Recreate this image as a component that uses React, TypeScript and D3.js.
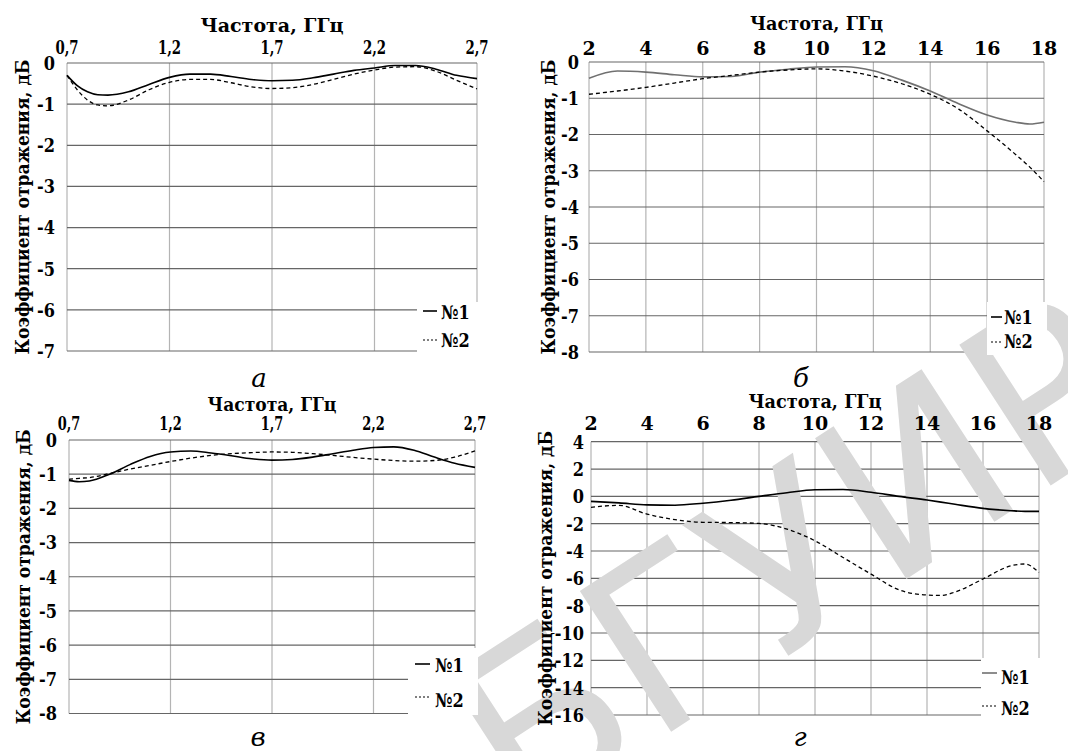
import React from "react";
import * as d3 from "d3";

// ---------- DATA ----------
const xTicksLow = [0.7, 1.2, 1.7, 2.2, 2.7];
const xTicksHigh = [2, 4, 6, 8, 10, 12, 14, 16, 18];
const yTicksA = [0, -1, -2, -3, -4, -5, -6, -7];
const yTicksB = [0, -1, -2, -3, -4, -5, -6, -7, -8];
const yTicksV = [0, -1, -2, -3, -4, -5, -6, -7, -8];
const yTicksG = [4, 2, 0, -2, -4, -6, -8, -10, -12, -14, -16];

// panel а
const freqA = [0.7, 0.75, 0.8, 0.85, 0.9, 1.0, 1.1, 1.2, 1.3, 1.4, 1.5, 1.6, 1.7, 1.8, 1.9, 2.0, 2.1, 2.2, 2.3, 2.4, 2.5, 2.6, 2.7];
const a1 = [-0.3, -0.55, -0.7, -0.77, -0.78, -0.7, -0.52, -0.35, -0.27, -0.27, -0.33, -0.4, -0.43, -0.42, -0.36, -0.27, -0.18, -0.12, -0.06, -0.06, -0.15, -0.3, -0.38];
const a2 = [-0.3, -0.65, -0.9, -1.02, -1.04, -0.9, -0.65, -0.47, -0.4, -0.4, -0.48, -0.58, -0.62, -0.6, -0.52, -0.4, -0.27, -0.17, -0.1, -0.09, -0.2, -0.42, -0.63];

// panel б
const freqB = [2, 3, 4, 5, 6, 7, 8, 9, 10, 11, 12, 13, 14, 15, 16, 17, 17.5, 18];
const b1 = [-0.45, -0.25, -0.28, -0.35, -0.41, -0.4, -0.28, -0.2, -0.14, -0.13, -0.24, -0.5, -0.8, -1.15, -1.46, -1.66, -1.71, -1.66];
const b2 = [-0.89, -0.8, -0.7, -0.58, -0.46, -0.37, -0.28, -0.22, -0.19, -0.25, -0.39, -0.6, -0.89, -1.3, -1.9, -2.55, -2.9, -3.3];

// panel в
const freqV = [0.7, 0.75, 0.8, 0.9, 1.0, 1.1, 1.2, 1.3, 1.4, 1.5, 1.6, 1.7, 1.8, 1.9, 2.0, 2.1, 2.2, 2.3, 2.4, 2.5, 2.6, 2.7];
const v1 = [-1.18, -1.22, -1.2, -1.0, -0.72, -0.48, -0.35, -0.32, -0.38, -0.46, -0.55, -0.59, -0.57, -0.5, -0.4, -0.3, -0.22, -0.2, -0.3, -0.5, -0.68, -0.8];
const v2 = [-1.15, -1.12, -1.1, -0.98, -0.85, -0.74, -0.63, -0.53, -0.45, -0.4, -0.37, -0.35, -0.36, -0.4, -0.45, -0.51, -0.56, -0.6, -0.62, -0.6, -0.5, -0.32];

// panel г
const freqG = [2, 3, 4, 5, 6, 7, 8, 9, 10, 11, 12, 13, 14, 14.5, 15, 16, 17, 17.5, 18];
const g1 = [-0.37, -0.48, -0.62, -0.65, -0.5, -0.28, 0, 0.27, 0.48, 0.5, 0.3, 0.0, -0.27, -0.42, -0.58, -0.88, -1.05, -1.1, -1.1];
const g2 = [-0.8, -0.66, -1.3, -1.7, -1.9, -1.92, -1.98, -2.4, -3.25, -4.47, -5.69, -6.84, -7.22, -7.25, -7.0, -6.05, -5.08, -4.95, -5.57];

const legendLabels = ["№1", "№2"];
const xTitle = "Частота, ГГц";
const yTitle = "Коэффициент отражения, дБ";
const captions = ["а", "б", "в", "г"];
const watermark = "БГУИР";

// ---------- RENDER ----------
const SERIF = '"DejaVu Serif", serif';

function T(props: {
  x: number; y: number; size: number; sx?: number; anchor?: string; italic?: boolean; bold?: boolean;
  dy?: string; rotate?: number; children: React.ReactNode;
}) {
  const { x, y, size, sx = 1, anchor = "start", italic = false, bold = true, dy, rotate = 0 } = props;
  return (
    <text
      transform={`translate(${x},${y}) rotate(${rotate}) scale(${sx},1)`}
      textAnchor={anchor}
      dy={dy}
      style={{ fontFamily: SERIF, fontSize: size, fontWeight: bold ? "bold" : "normal", fontStyle: italic ? "italic" : "normal" }}
    >
      {props.children}
    </text>
  );
}

type PanelProps = {
  x0: number; x1: number; yT: number; yB: number;
  xDomain: [number, number]; yDomain: [number, number];
  xTicks: number[]; yTicks: number[];
  freq: number[]; s1: number[]; s2: number[];
  s1Color: string; legend1Color: string;
  titleY: number; titleSx: number; tickY: number; tickSize: number; tickSx: number;
  yLabelX: number; yTickX: number;
  legend: { x: number; y: number; w: number; h: number; lx0: number; lx1: number; tx: number; ty1: number; ty2: number; ly1: number; ly2: number };
  caption: string; capX: number; capY: number;
  fmt: (v: number) => string;
};

function Grid(p: PanelProps) {
  const xs = d3.scaleLinear().domain(p.xDomain).range([p.x0, p.x1]);
  const ys = d3.scaleLinear().domain(p.yDomain).range([p.yB, p.yT]);
  return (
    <g>
      {p.xTicks.map((t) => (
        <line key={"vx" + t} x1={xs(t)} x2={xs(t)} y1={p.yT} y2={p.yB} stroke="#b4b4b4" strokeWidth={1.2} />
      ))}
      {p.yTicks.map((t) => (
        <line key={"hy" + t} x1={p.x0} x2={p.x1} y1={ys(t)} y2={ys(t)} stroke="#666" strokeWidth={1.2} />
      ))}
    </g>
  );
}

function Panel(p: PanelProps) {
  const xs = d3.scaleLinear().domain(p.xDomain).range([p.x0, p.x1]);
  const ys = d3.scaleLinear().domain(p.yDomain).range([p.yB, p.yT]);
  const line = d3
    .line<number>()
    .x((_, i) => xs(p.freq[i]))
    .y((d) => ys(d))
    .curve(d3.curveMonotoneX);
  const L = p.legend;
  const midX = (p.x0 + p.x1) / 2;
  const midY = (p.yT + p.yB) / 2;
  return (
    <g>
      <path d={line(p.s1) || ""} fill="none" stroke={p.s1Color} strokeWidth={1.6} />
      <path d={line(p.s2) || ""} fill="none" stroke="#000" strokeWidth={1.3} strokeDasharray="4,3" />
      <rect x={L.x} y={L.y} width={L.w} height={L.h} fill="#fff" />
      <line x1={L.lx0} x2={L.lx1} y1={L.ly1} y2={L.ly1} stroke={p.legend1Color} strokeWidth={1.6} />
      <line x1={L.lx0} x2={L.lx1} y1={L.ly2} y2={L.ly2} stroke="#000" strokeWidth={1.2} strokeDasharray="2,2" />
      <T x={L.tx} y={L.ty1} size={19} sx={0.85}>{legendLabels[0]}</T>
      <T x={L.tx} y={L.ty2} size={19} sx={0.85}>{legendLabels[1]}</T>
      {p.xTicks.map((t) => (
        <T key={"xt" + t} x={xs(t)} y={p.tickY} size={p.tickSize} sx={p.tickSx} anchor="middle">
          {p.fmt(t)}
        </T>
      ))}
      {p.yTicks.map((t) => (
        <T key={"yt" + t} x={p.yTickX} y={ys(t)} dy="0.36em" size={19} sx={0.85} anchor="end">
          {String(t)}
        </T>
      ))}
      <T x={midX} y={p.titleY} size={19} sx={p.titleSx} anchor="middle">{xTitle}</T>
      <T x={p.yLabelX} y={midY} size={19} sx={0.9} rotate={-90} dy="0.35em" anchor="middle">{yTitle}</T>
      <T x={p.capX} y={p.capY} size={26} italic bold={false} anchor="middle">{p.caption}</T>
    </g>
  );
}

const fmtComma = (v: number) => v.toFixed(1).replace(".", ",");
const fmtInt = (v: number) => String(v);

const panels: PanelProps[] = [
  {
    x0: 67, x1: 477, yT: 63, yB: 351,
    xDomain: [0.7, 2.7], yDomain: [-7, 0],
    xTicks: xTicksLow, yTicks: yTicksA,
    freq: freqA, s1: a1, s2: a2,
    s1Color: "#000", legend1Color: "#000",
    titleY: 32, titleSx: 1.0, tickY: 54, tickSize: 18.5, tickSx: 0.72, yLabelX: 22, yTickX: 55,
    legend: { x: 417, y: 302, w: 62, h: 52, lx0: 423, lx1: 437, tx: 441, ty1: 319, ty2: 347, ly1: 311, ly2: 340 },
    caption: captions[0], capX: 259, capY: 387, fmt: fmtComma,
  },
  {
    x0: 589, x1: 1044, yT: 62, yB: 352,
    xDomain: [2, 18], yDomain: [-8, 0],
    xTicks: xTicksHigh, yTicks: yTicksB,
    freq: freqB, s1: b1, s2: b2,
    s1Color: "#707070", legend1Color: "#000",
    titleY: 30, titleSx: 0.93, tickY: 55, tickSize: 19, tickSx: 1.0, yLabelX: 548, yTickX: 579,
    legend: { x: 987, y: 302, w: 60, h: 53, lx0: 991, lx1: 1002, tx: 1004, ty1: 324, ty2: 348, ly1: 317, ly2: 342 },
    caption: captions[1], capX: 801, capY: 387, fmt: fmtInt,
  },
  {
    x0: 69, x1: 475, yT: 440, yB: 713.5,
    xDomain: [0.7, 2.7], yDomain: [-8, 0],
    xTicks: xTicksLow, yTicks: yTicksV,
    freq: freqV, s1: v1, s2: v2,
    s1Color: "#000", legend1Color: "#000",
    titleY: 411, titleSx: 0.9, tickY: 430, tickSize: 18, tickSx: 0.72, yLabelX: 23, yTickX: 57,
    legend: { x: 408, y: 648, w: 70, h: 67, lx0: 415, lx1: 430, tx: 435, ty1: 672, ty2: 707, ly1: 664, ly2: 697 },
    caption: captions[2], capX: 258, capY: 746, fmt: fmtComma,
  },
  {
    x0: 591, x1: 1039, yT: 441.7, yB: 715,
    xDomain: [2, 18], yDomain: [-16, 4],
    xTicks: xTicksHigh, yTicks: yTicksG,
    freq: freqG, s1: g1, s2: g2,
    s1Color: "#000", legend1Color: "#707070",
    titleY: 408, titleSx: 0.93, tickY: 430, tickSize: 19, tickSx: 1.0, yLabelX: 545, yTickX: 584,
    legend: { x: 981, y: 658, w: 62, h: 60, lx0: 982, lx1: 997, tx: 1001, ty1: 684, ty2: 715, ly1: 673, ly2: 706 },
    caption: captions[3], capX: 800, capY: 746, fmt: fmtInt,
  },
];

export default function App() {
  return (
    <svg width={1068} height={751} style={{ position: "absolute", left: 0, top: 0, background: "#fff" }}>
      <rect x={0} y={0} width={1068} height={751} fill="#fff" />
      {panels.map((p, i) => <Grid key={"g" + i} {...p} />)}
      <text
        transform="translate(520,830) rotate(-33)"
        style={{ fontFamily: '"DejaVu Sans"', fontWeight: "normal", fontSize: 230, fill: "#d8d8d8" }}
      >
        {watermark}
      </text>
      {panels.map((p, i) => <Panel key={"p" + i} {...p} />)}
    </svg>
  );
}
